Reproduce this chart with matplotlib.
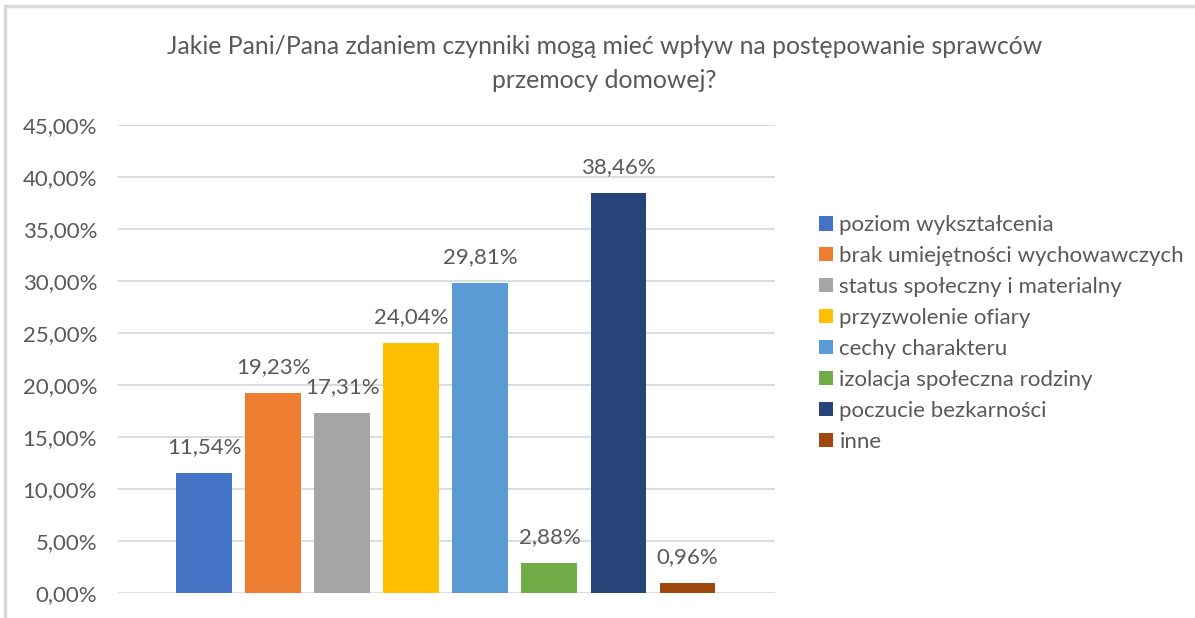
import matplotlib.pyplot as plt
from matplotlib.patches import Rectangle, Patch
from matplotlib.ticker import FuncFormatter

plt.rcParams['font.family'] = ['Lato', 'DejaVu Sans']

categories = ['poziom wykształcenia', 'brak umiejętności wychowawczych',
              'status społeczny i materialny', 'przyzwolenie ofiary',
              'cechy charakteru', 'izolacja społeczna rodziny',
              'poczucie bezkarności', 'inne']
values = [11.54, 19.23, 17.31, 24.04, 29.81, 2.88, 38.46, 0.96]
colors = ['#4472C4', '#ED7D31', '#A5A5A5', '#FFC000',
          '#5B9BD5', '#70AD47', '#264478', '#9E480E']
yticks = [0, 5, 10, 15, 20, 25, 30, 35, 40, 45]

txt = '#595959'
fig = plt.figure(figsize=(11.95, 6.18), dpi=100)
ax = fig.add_axes([0.0987, 0.0405, 0.55, 0.757])

x = list(range(len(values)))
ax.bar(x, values, width=0.81, color=colors, zorder=3)
for xi, v in zip(x, values):
    ax.annotate(f'{v:.2f}%'.replace('.', ','), (xi, v), xytext=(0, 14.5),
                textcoords='offset points', ha='center', va='baseline',
                fontsize=16, color=txt)

ax.set_xlim(-1.25, 8.27)
ax.set_ylim(0, 45)
ax.set_yticks(yticks)
ax.yaxis.set_major_formatter(FuncFormatter(lambda v, p: f'{v:.2f}%'.replace('.', ',')))
ax.grid(axis='y', color='#D9D9D9', linewidth=1.3, zorder=0)
ax.set_xticks([])
for s in ax.spines.values():
    s.set_visible(False)
ax.tick_params(axis='y', length=0, labelsize=16, labelcolor=txt, pad=15)

fig.text(0.506, 0.897, 'Jakie Pani/Pana zdaniem czynniki mogą mieć wpływ na postępowanie sprawców\nprzemocy domowej?',
         ha='center', va='center', fontsize=17.8, color=txt, linespacing=1.55)

handles = [Patch(facecolor=c) for c in colors]
fig.legend(handles, categories, loc='upper left', bbox_to_anchor=(0.669, 0.684),
           frameon=False, fontsize=16, labelcolor=txt, handlelength=0.6,
           handleheight=0.6, handletextpad=0.3, labelspacing=0.49)

# outer chart frame
fig.patches.append(Rectangle((5 / 1195, -0.1), 1.2, 1.1 - 6 / 618,
                             transform=fig.transFigure, fill=False,
                             edgecolor='#D9D9D9', linewidth=2.5))

fig.savefig('out.png', dpi=100)
